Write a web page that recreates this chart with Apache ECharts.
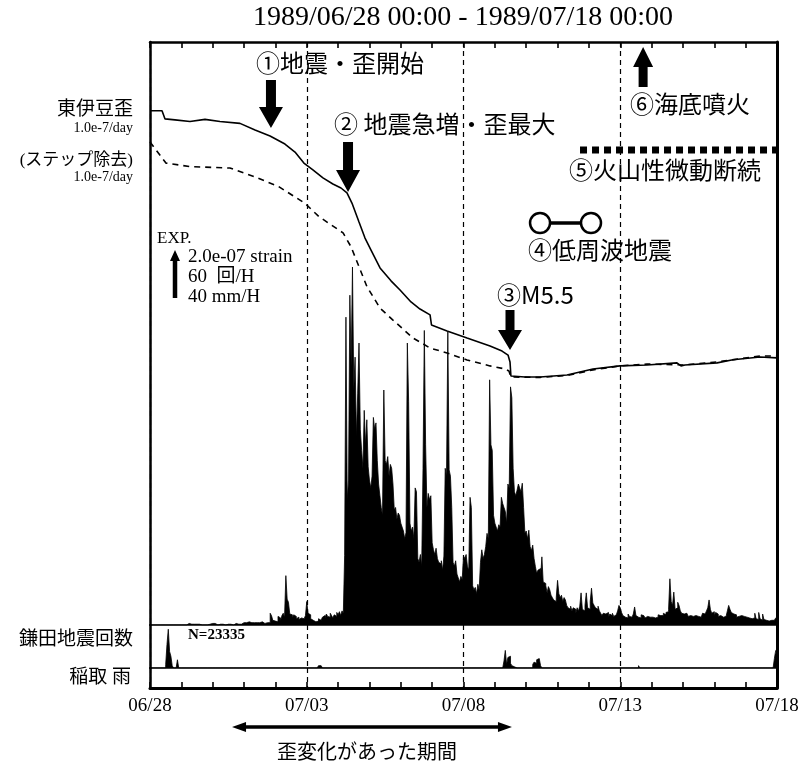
<!DOCTYPE html>
<html><head><meta charset="utf-8">
<script src="https://cdn.jsdelivr.net/npm/echarts/dist/echarts.min.js"></script>
<style>html,body{margin:0;padding:0;background:#fff}#c{width:803px;height:766px}</style>
</head><body><div id="c"></div>
<script>
// ---------------- data ----------------
const tickLabels = ['06/28','07/03','07/08','07/13','07/18'];
// hourly earthquake counts (Kamata), hour 0 = 1989/06/28 00:00
const counts = [
0,0,0,0,0,0,0,0,0,0,0,0,0,0,0,0,0,0,0,0,0,0,0,0,
0,0,0,0,0,2,2,1,2,1,0,1,2,1,0,0,0,0,1,0,0,1,2,2,
1,2,1,0,0,1,0,1,1,0,0,1,2,1,1,0,1,2,2,1,2,1,2,3,
2,3,2,4,5,3,2,3,4,3,2,3,5,4,3,2,4,3,4,3,15,12,6,5,
6,4,11,9,5,12,15,10,63,33,29,14,13,9,13,11,8,10,7,9,11,8,10,12,
30,15,13,8,6,5,4,6,5,8,6,7,10,12,9,14,11,10,15,12,9,13,11,16,
13,17,12,18,15,89,393,160,185,421,330,457,300,342,240,296,360,250,223,200,274,230,262,202,
185,175,190,265,250,258,210,180,165,150,140,300,210,205,215,190,205,200,180,147,150,135,143,140,
130,125,120,110,118,360,285,130,120,125,110,175,170,85,80,90,75,200,376,230,150,168,160,165,
105,96,90,98,85,80,78,82,70,88,200,190,374,198,190,150,80,75,82,65,60,55,62,58,
88,85,90,75,70,163,150,50,45,48,40,52,45,80,96,85,90,100,117,110,313,230,223,140,
130,125,120,128,125,163,155,150,145,130,180,175,304,290,200,170,165,172,180,175,170,181,150,117,
120,110,121,100,95,102,85,75,66,70,72,60,87,55,53,50,41,49,45,38,35,32,30,35,
57,40,35,38,30,35,32,25,22,20,24,18,22,20,15,22,18,24,41,20,18,25,41,22,
20,30,47,28,25,22,20,24,18,15,12,15,14,12,16,10,14,12,15,11,13,14,18,25,
22,16,12,10,12,9,14,11,10,12,14,23,12,10,11,9,13,12,10,9,11,12,10,11,
10,12,9,11,10,13,12,14,12,15,13,16,17,20,59,30,25,42,20,22,29,25,18,15,
14,12,15,13,11,12,10,11,9,12,10,11,9,10,12,15,14,13,18,22,32,20,15,17,
12,16,14,11,12,14,10,12,11,13,18,25,20,16,14,12,13,10,11,9,12,10,11,9,
10,8,9,11,8,10,9,15,8,7,16,8,6,14,7,6,8,5,7,6,8,6,5,9
];
// hourly rain (Inatori), mm/h, non-zero hours only
const rainHour = [12,13,14,15,16,17,21,128,129,130,131,271,272,273,274,275,276,277,278,293,294,295,296,297,298,299,374,478,479];
const rainMm   = [3,20,33,14,10,2,7,1,2,2,1,6,15,3,9,10,4,2,1,3,5,4,7,8,7,2,2,8,15];
// strain, units of 1e-7 (trend 1.0e-7/day removed) [hour, value]
const strainSolid = [[0,0],[9.2,0],[11.5,-0.35],[19.1,-0.39],[30.6,-0.46],[42.1,-0.37],[53.6,-0.46],[68.9,-0.54],[80.4,-0.82],[91.9,-1.08],[103.3,-1.42],[111,-1.76],[117.8,-2.23],[124.7,-2.52],[132.4,-2.86],[140,-3.12],[146.2,-3.29],[150.8,-3.50],[154.6,-3.93],[160,-4.74],[164.6,-5.42],[169.2,-5.93],[176.1,-6.69],[184.5,-7.24],[191.4,-7.63],[199.8,-8.14],[206.7,-8.44],[214.4,-8.69],[215.5,-9.12],[227.4,-9.37],[242.7,-9.67],[260.3,-10.01],[269.5,-10.23],[274.1,-10.40],[275.6,-10.69],[276.3,-11.29],[287.1,-11.33],[298.6,-11.33],[319.2,-11.25],[339.1,-10.99],[359.8,-10.86],[380.5,-10.82],[403.4,-10.73],[406.5,-10.86],[409.5,-10.82],[434.1,-10.73],[446.3,-10.60],[467,-10.48],[480,-10.52]];
// strain with steps removed
const strainDashed = [[0,-1.33],[12.2,-2.23],[30.6,-2.38],[61.2,-2.44],[80.1,-2.81],[98.5,-3.23],[118.6,-3.94],[129.4,-4.51],[147.8,-5.20],[153.9,-5.79],[166.1,-7.49],[176.1,-8.40],[186,-8.91],[201.3,-9.67],[214.4,-10.10],[227.4,-10.31],[242.7,-10.61],[260.3,-10.86],[271.8,-10.99],[274.8,-11.08],[276.3,-11.33],[298.6,-11.35],[319.2,-11.27],[339.1,-11.03],[359.8,-10.86],[380.5,-10.78],[408.2,-10.82],[434.1,-10.69],[467,-10.44],[480,-10.44]];
// event times (hours)
const eventStartH = 92.6, eventMaxH = 151.6, eventM55H = 275.6, eventEruptH = 377.5;
const lowFreqH = [298.6, 337.6];
const tremorH = [329.2, 480];
const strainPeriodH = [62.8, 277.1];
// scale bar: 2.0e-07 strain / 60 per hour / 40 mm per hour
const scaleValues = [2.0, 60, 40];

// ---------------- layout ----------------
const L = 150, R = 777, T = 42, Y1 = 625, Y2 = 668, Y3 = 688;
const BAR = 47; // scale arrow length px
const SERIF = '"Liberation Serif","Noto Sans CJK JP",serif';
const GOTH = '"Noto Sans CJK JP","Noto Sans",sans-serif';
const strainTop = 2.923;
const strainMin = strainTop - (Y1 - T) / (BAR / scaleValues[0]);
const countMax = (Y1 - T) / (BAR / scaleValues[1]);
const rainMax = (Y2 - Y1) / (BAR / scaleValues[2]);

const countData = counts.map((v, i) => [i, v]);
countData.push([counts.length, counts[counts.length - 1]]);
const rainFull = new Array(480).fill(0);
rainHour.forEach((h, k) => { rainFull[h] = rainMm[k]; });
const rainData = rainFull.map((v, i) => [i, v]);
rainData.push([480, rainFull[479]]);

const dashSplit = { show: true, lineStyle: { color: '#000', width: 1.2, type: [5, 4] } };
function xa(grid, pos, opts) {
  return Object.assign({
    type: 'value', gridIndex: grid, position: pos, min: 0, max: 480, interval: 24,
    axisLine: { show: false, onZero: false, lineStyle: { color: '#000', width: 2 } },
    axisTick: { show: false }, axisLabel: { show: false }, splitLine: { show: false }
  }, opts);
}
function ya(grid, pos, min, max, w) {
  return {
    type: 'value', gridIndex: grid, position: pos, min: min, max: max,
    axisLine: { show: true, onZero: false, lineStyle: { color: '#000', width: w } },
    axisTick: { show: false }, axisLabel: { show: false }, splitLine: { show: false }
  };
}

const option = {
  animation: false,
  backgroundColor: '#fff',
  grid: [
    { left: L, top: T, width: R - L, height: Y1 - T },
    { left: L, top: Y1, width: R - L, height: Y2 - Y1 },
    { left: L, top: Y2, width: R - L, height: Y3 - Y2 }
  ],
  xAxis: [
    xa(0, 'top', { axisLine: { show: true, onZero: false, lineStyle: { color: '#000', width: 2.5 } },
      axisTick: { show: true, inside: true, length: 6, lineStyle: { color: '#000', width: 1.6 } } }),
    xa(0, 'bottom', { interval: 120, axisLine: { show: true, onZero: false, lineStyle: { color: '#000', width: 1.6 } }, splitLine: dashSplit }),
    xa(1, 'bottom', { interval: 120, axisLine: { show: true, onZero: false, lineStyle: { color: '#000', width: 1.6 } }, splitLine: dashSplit }),
    xa(2, 'bottom', { axisLine: { show: true, onZero: false, lineStyle: { color: '#000', width: 3 } },
      axisTick: { show: true, inside: true, length: 6, lineStyle: { color: '#000', width: 1.6 } },
      axisLabel: { show: true, margin: 9, color: '#000', fontFamily: SERIF, fontSize: 19,
        showMinLabel: true, showMaxLabel: true,
        formatter: v => (v % 120 === 0 ? tickLabels[v / 120] : '') } }),
    xa(2, 'top', { interval: 120, splitLine: dashSplit })
  ],
  yAxis: [
    ya(0, 'left', 0, countMax, 2.5),
    ya(0, 'right', strainMin, strainTop, 3),
    ya(1, 'left', 0, rainMax, 2.5),
    ya(1, 'right', 0, 1, 3),
    ya(2, 'left', 0, 1, 2.5),
    ya(2, 'right', 0, 1, 3)
  ],
  series: [
    { type: 'line', name: '鎌田地震回数', xAxisIndex: 1, yAxisIndex: 0, data: countData, step: 'end',
      symbol: 'none', sampling: null, lineStyle: { color: '#000', width: 0.8 },
      areaStyle: { color: '#000', opacity: 1 }, z: 2 },
    { type: 'line', name: '東伊豆歪', xAxisIndex: 1, yAxisIndex: 1, data: strainSolid,
      symbol: 'none', lineStyle: { color: '#000', width: 1.6 }, z: 3 },
    { type: 'line', name: 'ステップ除去', xAxisIndex: 1, yAxisIndex: 1, data: strainDashed,
      symbol: 'none', lineStyle: { color: '#000', width: 1.6, type: [6, 5] }, z: 3 },
    { type: 'line', name: '稲取 雨', xAxisIndex: 2, yAxisIndex: 2, data: rainData, step: 'end',
      symbol: 'none', lineStyle: { color: '#000', width: 0.8 },
      areaStyle: { color: '#000', opacity: 1 }, z: 2 }
  ]
};

const chart = echarts.init(document.getElementById('c'));
chart.setOption(option);

const px = h => chart.convertToPixel({ xAxisIndex: 1 }, h);

function txt(text, x, y, size, family, align, weight) {
  return { type: 'text', x: x, y: y, z: 10,
    style: { text: text, fill: '#000', font: (weight || 'normal') + ' ' + size + 'px ' + family,
      textAlign: align || 'left', align: align || 'left', textVerticalAlign: 'middle', verticalAlign: 'middle' } };
}
function poly(points) { return { type: 'polygon', z: 10, shape: { points: points }, style: { fill: '#000' } }; }
function arrowV(x, yTail, yBase, yTip, sw, hw) {
  return poly([[x - sw / 2, yTail], [x + sw / 2, yTail], [x + sw / 2, yBase], [x + hw / 2, yBase], [x, yTip],
    [x - hw / 2, yBase], [x - sw / 2, yBase]]);
}
function dblArrow(x1, x2, y, sw, hh, hl) {
  return poly([[x1, y], [x1 + hl, y - hh], [x1 + hl, y - sw / 2], [x2 - hl, y - sw / 2], [x2 - hl, y - hh], [x2, y],
    [x2 - hl, y + hh], [x2 - hl, y + sw / 2], [x1 + hl, y + sw / 2], [x1 + hl, y + hh]]);
}

const g = [];
g.push(txt('1989/06/28 00:00 - 1989/07/18 00:00', 463, 18, 28, SERIF, 'center'));
// left labels
g.push(txt('東伊豆歪', 133, 110, 19, SERIF, 'right'));
g.push(txt('1.0e-7/day', 133, 128, 14, SERIF, 'right'));
g.push(txt('(ステップ除去)', 133, 161, 17, SERIF, 'right'));
g.push(txt('1.0e-7/day', 133, 177, 14, SERIF, 'right'));
g.push(txt('鎌田地震回数', 133, 640, 19, SERIF, 'right'));
g.push(txt('稲取 雨', 131, 678, 19, SERIF, 'right'));
// scale legend
g.push(txt('EXP.', 157, 239, 17, SERIF, 'left'));
g.push(arrowV(175, Y1 - 327, 261, 250, 4.5, 10));
g.push(txt('2.0e-07 strain', 188, 257, 19, SERIF, 'left'));
g.push(txt('60  回/H', 188, 277, 19, SERIF, 'left'));
g.push(txt('40 mm/H', 188, 297, 19, SERIF, 'left'));
g.push(txt('N=23335', 188, 635, 15, SERIF, 'left', 'bold'));
// event annotations
g.push(txt('①地震・歪開始', 256, 63, 24, GOTH, 'left'));
g.push(arrowV(px(eventStartH), 80, 107, 128, 10, 24));
g.push(txt('② 地震急増・歪最大', 334, 124, 24, GOTH, 'left'));
g.push(arrowV(px(eventMaxH), 142, 170, 192, 10, 24));
g.push(txt('③M5.5', 497, 295, 24, GOTH, 'left'));
g.push(arrowV(px(eventM55H), 310, 330, 350, 9, 24));
// low frequency earthquakes symbol
g.push({ type: 'line', z: 10, shape: { x1: px(lowFreqH[0]), y1: 223, x2: px(lowFreqH[1]), y2: 223 },
  style: { stroke: '#000', lineWidth: 3.5 } });
lowFreqH.forEach(h => g.push({ type: 'circle', z: 11, shape: { cx: px(h), cy: 223, r: 10 },
  style: { fill: '#fff', stroke: '#000', lineWidth: 2.5 } }));
g.push(txt('④低周波地震', 528, 250, 24, GOTH, 'left'));
// tremor dotted bar
g.push({ type: 'line', z: 10, shape: { x1: px(tremorH[0]), y1: 150, x2: px(tremorH[1]), y2: 150 },
  style: { stroke: '#000', lineWidth: 7, lineDash: [7, 5] } });
g.push(txt('⑤火山性微動断続', 569, 170, 24, GOTH, 'left'));
// eruption
g.push(arrowV(px(eventEruptH), 87, 67, 47, 9, 20));
g.push(txt('⑥海底噴火', 630, 104, 24, GOTH, 'left'));
// strain period
g.push(dblArrow(px(strainPeriodH[0]), px(strainPeriodH[1]), 727, 3.5, 5, 14));
g.push(txt('歪変化があった期間', 367, 751, 20, GOTH, 'center'));

chart.setOption({ graphic: g });
</script>
</body></html>
